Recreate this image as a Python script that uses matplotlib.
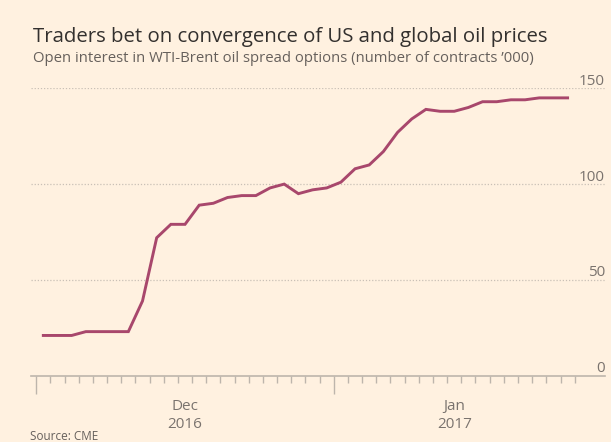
import numpy as np
import matplotlib
matplotlib.use("Agg")
import matplotlib.pyplot as plt

# open interest, '000 contracts, one value per trading day (Dec 2016 - Jan 2017)
open_interest = [21, 21, 21, 23, 23, 23, 23, 39, 72, 79,
                 79, 89, 90, 93, 94, 94, 98, 100, 95, 97,
                 98, 101, 108, 110, 117, 127, 134, 139, 138, 138,
                 140, 143, 143, 144, 144, 145, 145, 145]
month_labels = ["Dec\n2016", "Jan\n2017"]
month_start = [0, 21]          # index of first trading day of each month
y_ticks = [0, 50, 100, 150]

bg = "#FFF1E0"
line_col = "#A8476C"
grid_col = "#C9C0B6"
text_col = "#33302E"
label_col = "#7A736E"

plt.rcParams["font.family"] = ["Open Sans", "DejaVu Sans"]

fig = plt.figure(figsize=(6.11, 4.42), dpi=100, facecolor=bg)
ax = fig.add_axes([31 / 611, 1 - 375.7 / 442, (605 - 31) / 611, (375.7 - 88.3) / 442])
ax.set_facecolor(bg)

n = len(open_interest)
x = np.arange(n)
ax.plot(x, open_interest, color=line_col, lw=2.1, solid_joinstyle="miter", zorder=3)

ax.set_xlim(-0.87, 39.64)
ax.set_ylim(0, 150)

# dotted gridlines with labels sitting on top, right-aligned
for v in y_ticks[1:]:
    ax.axhline(v, color=grid_col, lw=0.9, ls=(0, (1, 1.5)), zorder=1)
for v in y_ticks:
    ax.text(39.64, v + 1.8, str(v), ha="right", va="baseline", fontsize=11,
            color=label_col, clip_on=False)

for s in ["top", "right", "left"]:
    ax.spines[s].set_visible(False)
ax.spines["bottom"].set_color("#BDB5AC")
ax.spines["bottom"].set_linewidth(1.2)
ax.set_yticks([])

# small ticks at day boundaries, long ticks at month starts
bounds = np.arange(n + 1) - 0.5
ax.set_xticks(bounds, minor=True)
ax.set_xticks([month_start[0] - 0.5, month_start[1] - 0.5])
ax.set_xticklabels([])
ax.tick_params(axis="x", which="minor", length=5, width=1, color="#BDB5AC")
ax.tick_params(axis="x", which="major", length=13, width=1, color="#BDB5AC")

# month labels centred in their month
ends = month_start[1:] + [n]
for lab, a, b in zip(month_labels, month_start, ends):
    ax.text((a + b - 1) / 2, -0.08, lab, transform=ax.get_xaxis_transform(),
            ha="center", va="top", fontsize=11, color=label_col, linespacing=1.3)

fig.text(33 / 611, 1 - 37 / 442, "Traders bet on convergence of US and global oil prices",
         fontsize=14.7, color=text_col, va="center", ha="left")
fig.text(33 / 611, 1 - 58.5 / 442,
         "Open interest in WTI-Brent oil spread options (number of contracts \u2019000)",
         fontsize=10.7, color="#66605C", va="center", ha="left")
fig.text(30 / 611, 1 - 436 / 442, "Source: CME", fontsize=8.5, color="#66605C",
         va="center", ha="left")

fig.savefig("out.png", dpi=100, facecolor=bg)
